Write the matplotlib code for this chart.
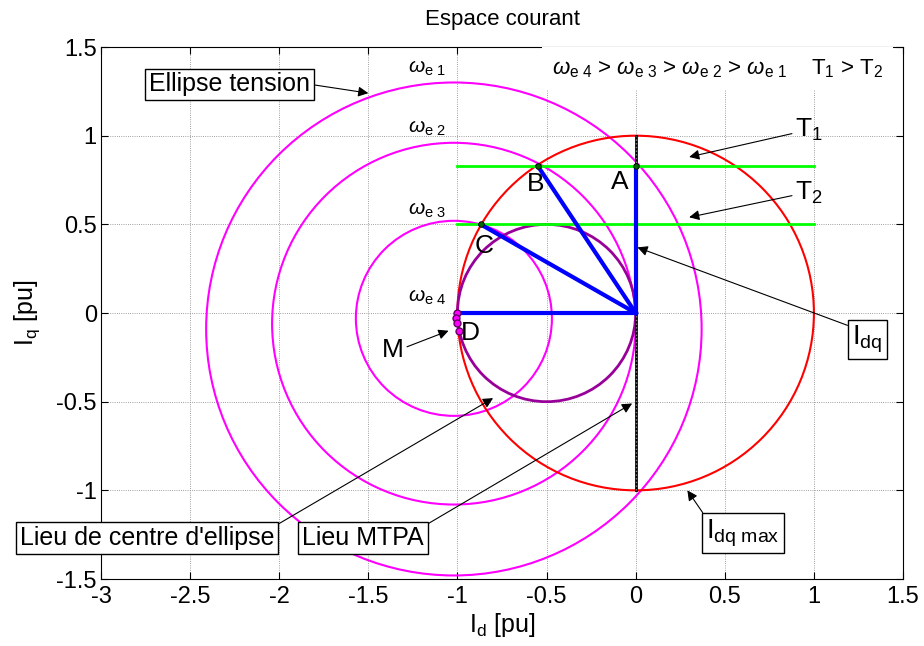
import numpy as np
import matplotlib
matplotlib.use('Agg')
import matplotlib.pyplot as plt
from matplotlib.patches import Circle

plt.rcParams['font.family'] = ['Liberation Sans', 'DejaVu Sans']
plt.rcParams['mathtext.fontset'] = 'custom'
plt.rcParams['mathtext.rm'] = 'Liberation Sans'
plt.rcParams['mathtext.it'] = 'Liberation Sans:italic'
plt.rcParams['mathtext.sf'] = 'Liberation Sans'

# voltage "ellipses" (circles here): centre and radius for we1..we4
ell_cx = [-1.02, -1.02, -1.02, -1.0]
ell_cy = [-0.09, -0.06, -0.03, 0.0]
ell_r = [1.39, 1.02, 0.55, 0.008]
ell_names = ['1', '2', '3', '4']
ell_label_y = [1.38, 1.04, 0.58, 0.09]

# current limit circle
imax = 1.0
# MTPA / centre locus circle
locus_cx, locus_cy, locus_r = -0.5, 0.0, 0.5

# operating points A, B, C, D
pt_names = ['A', 'B', 'C', 'D']
pt_id = [0.0, -0.55, -0.87, -1.0]
pt_iq = [0.83, 0.83, 0.5, 0.0]

# constant torque lines
torque_iq = [0.83, 0.5]
torque_id = [-1.0, 1.0]

# ellipse centres M
m_id = [-1.0, -1.01, -1.0, -0.99]
m_iq = [0.0, -0.03, -0.055, -0.1]

fig = plt.figure(figsize=(9.24, 6.46), dpi=100)
ax = fig.add_axes([0.1093, 0.1037, 0.8680, 0.8235])

ax.set_xlim(-3, 1.5)
ax.set_ylim(-1.5, 1.5)
ax.set_xticks(np.arange(-3, 1.51, 0.5))
ax.set_yticks(np.arange(-1.5, 1.51, 0.5))
ax.set_xticklabels(['-3', '-2.5', '-2', '-1.5', '-1', '-0.5', '0', '0.5', '1', '1.5'])
ax.set_yticklabels(['-1.5', '-1', '-0.5', '0', '0.5', '1', '1.5'])
ax.grid(True, color='#808080', lw=0.6, ls=':')
ax.tick_params(direction='in', top=True, right=True, labelsize=17, length=5)
ax.tick_params(axis='x', pad=5)
ax.tick_params(axis='y', pad=3)

for cx, cy, r in zip(ell_cx, ell_cy, ell_r):
    ax.add_patch(Circle((cx, cy), r, fill=False, ec='#ff00ff', lw=1.5, zorder=3))
ax.add_patch(Circle((0, 0), imax, fill=False, ec='#ff0000', lw=1.5, zorder=3))
ax.add_patch(Circle((locus_cx, locus_cy), locus_r, fill=False, ec='#990099', lw=2, zorder=3))

for iq in torque_iq:
    ax.plot(torque_id, [iq, iq], color='#00ff00', lw=2, zorder=4)

ax.plot([0, 0], [-imax, imax], color='k', lw=2, zorder=4)
ax.plot([0, 0], [-imax, imax], color='#888888', lw=1, ls=':', zorder=4)
for x, y in zip(pt_id, pt_iq):
    ax.plot([0, x], [0, y], color='#0000ff', lw=3, zorder=5)
ax.plot(pt_id[:3], pt_iq[:3], 'o', ms=4, mfc='#006600', mec='k', mew=0.6, zorder=6)
ax.plot(m_id, m_iq, 'o', ms=5, mfc='#ff00ff', mec='#660066', mew=1, zorder=6)

# point labels
lab_pos = [(-0.09, 0.74), (-0.56, 0.73), (-0.85, 0.38), (-0.93, -0.11)]
for name, (x, y) in zip(pt_names, lab_pos):
    ax.text(x, y, name, fontsize=19, ha='center', va='center', zorder=7)

for n, y in zip(ell_names, ell_label_y):
    ax.text(-1.17, y, r'$\omega_{\mathrm{e\ ' + n + '}}$', fontsize=15,
            ha='center', va='center', zorder=7)

ax.text(-0.47, 1.38,
        r'$\omega_{\mathrm{e\ 4}}$ > $\omega_{\mathrm{e\ 3}}$ > $\omega_{\mathrm{e\ 2}}$'
        r' > $\omega_{\mathrm{e\ 1}}$    T$_{1}$ > T$_{2}$',
        fontsize=16, ha='left', va='center', zorder=7,
        bbox=dict(boxstyle='square,pad=0.45', fc='white', ec='none'))

box = dict(boxstyle='square,pad=0.15', fc='white', ec='black', lw=1)
arr = dict(arrowstyle='-|>', color='k', lw=0.8, mutation_scale=15, shrinkA=0, shrinkB=0)

def note(txt, tip, pos, rel, bbox=box, fs=18):
    a = dict(arr, relpos=rel)
    ax.annotate(txt, xy=tip, xytext=pos, fontsize=fs, ha='center', va='center',
                bbox=bbox, arrowprops=a, annotation_clip=False, zorder=8)

note('Ellipse tension', (-1.5, 1.24), (-2.28, 1.29), (1, 0.5))
note(r'I$_{\mathrm{dq}}$', (0.01, 0.37), (1.30, -0.15), (0, 0.9), fs=20)
note(r'I$_{\mathrm{dq\ max}}$', (0.29, -1.0), (0.6, -1.24), (0, 1), fs=20)
note("Lieu de centre d'ellipse", (-0.8, -0.48), (-2.74, -1.27), (1, 1))
note('Lieu MTPA', (-0.02, -0.51), (-1.53, -1.27), (1, 1))
note(r'T$_{1}$', (0.30, 0.88), (0.97, 1.03), (0, 0.4), bbox=None, fs=19)
note(r'T$_{2}$', (0.30, 0.54), (0.97, 0.68), (0, 0.4), bbox=None, fs=19)
note('M', (-1.05, -0.1), (-1.36, -0.21), (1, 0.6), bbox=None, fs=19)

ax.set_title('Espace courant', fontsize=16, pad=16)
ax.set_xlabel(r'I$_{\mathrm{d}}$ [pu]', fontsize=18, labelpad=2)
ax.set_ylabel(r'I$_{\mathrm{q}}$ [pu]', fontsize=18, labelpad=10)

fig.savefig('out.png', dpi=100)
